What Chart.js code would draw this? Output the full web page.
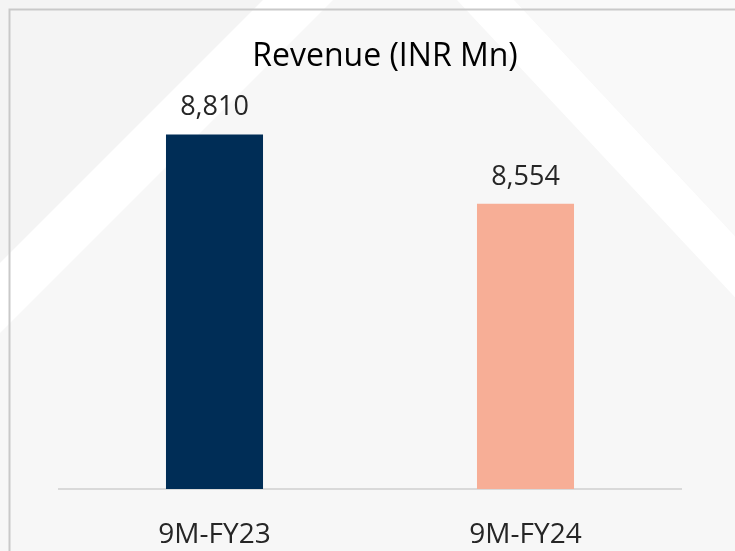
<!DOCTYPE html>
<html>
<head>
<meta charset="utf-8">
<script src="https://cdn.jsdelivr.net/npm/chart.js@4"></script>
<style>
  html, body { margin: 0; padding: 0; background: #f5f5f5; }
  #wrap { width: 735px; height: 551px; }
</style>
</head>
<body>
<div id="wrap"><canvas id="revChart" width="735" height="551"></canvas></div>
<script>
var periods = ['9M-FY23', '9M-FY24'];
var revenue = [8810, 8554];
var barColors = ['#002d56', '#f7ae96'];

// slide background: grey with two white diagonal bands and a thin frame
var slideBg = {
    id: 'slideBg',
    beforeDraw: function (chart) {
        var ctx = chart.ctx;
        ctx.save();
        ctx.fillStyle = '#f4f4f4';
        ctx.fillRect(0, 0, 735, 551);

        ctx.fillStyle = '#f7f7f7';
        ctx.beginPath();
        ctx.moveTo(333, 0); ctx.lineTo(735, 0); ctx.lineTo(735, 551); ctx.lineTo(-218, 551);
        ctx.closePath(); ctx.fill();

        ctx.fillStyle = '#f9f9f9';
        ctx.beginPath();
        ctx.moveTo(514, 0); ctx.lineTo(735, 0); ctx.lineTo(735, 236);
        ctx.closePath(); ctx.fill();

        ctx.fillStyle = '#ffffff';
        ctx.beginPath();
        ctx.moveTo(263, 0); ctx.lineTo(333, 0); ctx.lineTo(-218, 551); ctx.lineTo(-288, 551);
        ctx.closePath(); ctx.fill();

        ctx.beginPath();
        ctx.moveTo(457, 0); ctx.lineTo(514, 0); ctx.lineTo(514 + 551 * 0.935, 551); ctx.lineTo(457 + 551 * 0.935, 551);
        ctx.closePath(); ctx.fill();

        ctx.strokeStyle = '#c9c9c9';
        ctx.lineWidth = 2;
        ctx.beginPath();
        ctx.moveTo(9.5, 551); ctx.lineTo(9.5, 9.5); ctx.lineTo(735, 9.5);
        ctx.stroke();
        ctx.restore();
    }
};

var valueLabels = {
    id: 'valueLabels',
    afterDatasetsDraw: function (chart) {
        var ctx = chart.ctx;
        var meta = chart.getDatasetMeta(0);
        ctx.save();
        ctx.font = '27px "Open Sans"';
        ctx.fillStyle = '#262626';
        ctx.textAlign = 'center';
        ctx.textBaseline = 'alphabetic';
        meta.data.forEach(function (bar, i) {
            ctx.fillText(revenue[i].toLocaleString('en-US'), bar.x, bar.y - 19);
        });
        ctx.restore();
    }
};

var ctx = document.getElementById('revChart').getContext('2d');
var revChart = new Chart(ctx, {
    type: 'bar',
    data: {
        labels: periods,
        datasets: [{
            label: 'Revenue',
            data: revenue,
            backgroundColor: barColors,
            borderWidth: 0,
            categoryPercentage: 1,
            barPercentage: 0.312
        }]
    },
    options: {
        responsive: false,
        animation: false,
        devicePixelRatio: 1,
        layout: {
            padding: { left: 59, right: 24, top: 0, bottom: 0 }
        },
        plugins: {
            legend: { display: false },
            tooltip: { enabled: false },
            title: {
                display: true,
                text: 'Revenue (INR Mn)',
                color: '#000000',
                font: { family: '"Open Sans"', size: 32, weight: 'normal', lineHeight: 1.2 },
                padding: { top: 38, bottom: 6.6 }
            }
        },
        scales: {
            x: {
                grid: { display: false },
                border: { display: true, color: '#d9d9d9', width: 2 },
                ticks: {
                    color: '#262626',
                    padding: 21,
                    font: { family: '"Open Sans"', size: 28 }
                },
                afterFit: function (axis) { axis.height = 62; }
            },
            y: {
                position: 'right',
                min: 7500,
                max: 9000,
                grid: { display: false },
                border: { display: false },
                ticks: { display: false },
                afterFit: function (axis) { axis.width = 30; }
            }
        }
    },
    plugins: [slideBg, valueLabels]
});
</script>
</body>
</html>
